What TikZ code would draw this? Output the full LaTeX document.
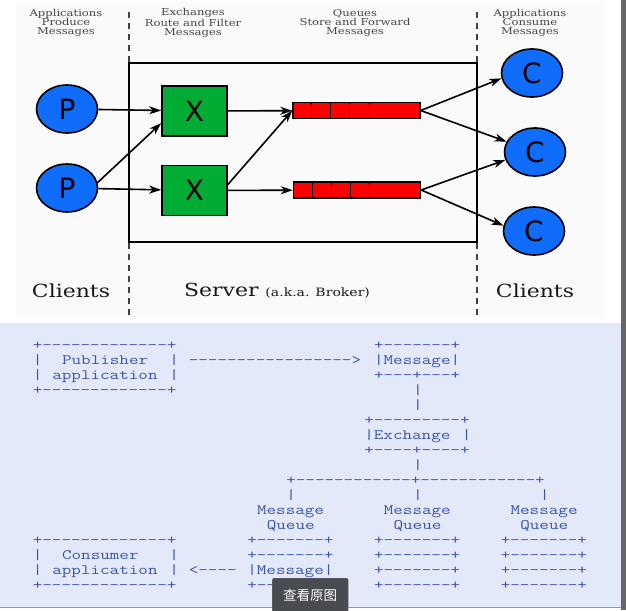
\documentclass[tikz,border=0pt]{standalone}
\usepackage{fontspec}
\setmainfont{DejaVu Serif}
\setsansfont{DejaVu Sans}
\setmonofont{Latin Modern Mono}[FakeStretch=1.3]
\newfontfamily\slabfont{DejaVu Serif}[FakeStretch=1.22]
\newfontfamily\cjk{Noto Sans CJK SC}
\usetikzlibrary{shapes.geometric, arrows.meta}

\definecolor{pblue}{RGB}{16,108,250}
\definecolor{xgreen}{RGB}{0,172,52}
\definecolor{qred}{RGB}{255,0,0}
\definecolor{headgray}{RGB}{70,70,70}
\definecolor{asciiblue}{RGB}{58,84,170}
\definecolor{paneblue}{RGB}{228,233,250}
\definecolor{btngray}{RGB}{72,75,80}

\begin{document}
\begin{tikzpicture}[x=1pt, y=-1pt,
  client/.style={ellipse, draw, line width=1.6pt, fill=pblue, minimum width=61pt, minimum height=48pt, inner sep=0pt, font=\sffamily\fontsize{28}{28}\selectfont},
  exch/.style={rectangle, draw, line width=1.6pt, fill=xgreen, minimum width=65pt, minimum height=50pt, inner sep=0pt, font=\sffamily\fontsize{28}{28}\selectfont},
  queue/.style={rectangle, draw, line width=1.4pt, fill=qred, minimum width=127pt, minimum height=16pt, inner sep=0pt},
  flow/.style={line width=1.6pt, -{Stealth[length=12pt, width=8pt, inset=3.5pt]}},
  head/.style={font=\slabfont\fontsize{9.5}{9.2}\selectfont, text=headgray, align=center},
  side/.style={font=\slabfont\fontsize{18}{18}\selectfont, text=black!90},
  asc/.style={anchor=base west, inner sep=0pt, text=asciiblue, font=\ttfamily\fontsize{14.3}{15}\selectfont}
]
\useasboundingbox (0,0) rectangle (626,610);
% panes of the screenshot
\fill[white] (0,0) rectangle (626,610);
\fill[black!2] (16,2) rectangle (605,318);
\fill[paneblue] (0,323) rectangle (621,607);
\fill[black!60] (621,0) rectangle (626,610);
\draw[black!40, line width=1pt] (0,607.5) -- (621,607.5);

% upper picture
\foreach \x in {129,477} {
 \draw[line width=1.2pt, black!75, dash pattern=on 6pt off 5pt] (\x,12) -- (\x,318);
}
\draw[line width=1.6pt] (129,63) rectangle (477,242);

\node[head] (hprod) at (66,23) {Applications\\Produce\\Messages};
\node[head] (hexch) at (193,23) {Exchanges\\Route and Filter\\Messages};
\node[head] (hque) at (355,23) {Queues\\Store and Forward\\Messages};
\node[head] (hcons) at (530,23) {Applications\\Consume\\Messages};

\node[client] (p1) at (67,109) {P};
\node[client] (p2) at (67,188) {P};
\node[exch] (x1) at (194.5,111) {X};
\node[exch] (x2) at (194.5,190.5) {X};
\node[queue] (q1) at (356.5,110.5) {};
\node[queue] (q2) at (357,190) {};
\node[client] (c1) at (532,73) {C};
\node[client] (c2) at (535,152) {C};
\node[client] (c3) at (534,231) {C};

\foreach \q in {q1,q2} {
 \foreach \d in {19.5,38.5,57.5,77} {
  \draw[line width=1.2pt] ([xshift=\d pt]\q.north west) -- ([xshift=\d pt]\q.south west);
 }
}

\draw[flow] (p1) -- (x1);
\draw[flow] (p2.10) -- (x1.200);
\draw[flow] (p2) -- (x2);
\draw[flow] (x1) -- (q1);
\draw[flow] (x2.10) -- (q1.west);
\draw[flow] (x2) -- (q2);
\draw[flow] (q1.east) -- (c1.190);
\draw[flow] (q1.east) -- (c2.160);
\draw[flow] (q2.east) -- (c2.195);
\draw[flow] (q2.east) -- (c3.170);

\node[side] (cl1) at (71,291) {Clients};
\node[side] (srv) at (277,291) {Server {\fontsize{11.5}{11.5}\selectfont(a.k.a. Broker)}};
\node[side] (cl2) at (535,291) {Clients};

% lower picture, column/row/text
\foreach \c/\r/\t [count=\i] in {
 0/0/{+-------------+}, 35/0/{+-------+},
 0/1/{|}, 3/1/{Publisher}, 14/1/{|}, 16/1/{----------------->}, 35/1/{|Message|},
 0/2/{|}, 2/2/{application}, 14/2/{|}, 35/2/{+---+---+},
 0/3/{+-------------+}, 39/3/{|},
 39/4/{|},
 34/5/{+---------+},
 34/6/{|Exchange}, 44/6/{|},
 34/7/{+----+----+},
 39/8/{|},
 26/9/{+------------+------------+},
 26/10/{|}, 39/10/{|}, 52/10/{|},
 23/11/{Message}, 36/11/{Message}, 49/11/{Message},
 24/12/{Queue}, 37/12/{Queue}, 50/12/{Queue},
 0/13/{+-------------+}, 22/13/{+-------+}, 35/13/{+-------+}, 48/13/{+-------+},
 0/14/{|}, 3/14/{Consumer}, 14/14/{|}, 22/14/{+-------+}, 35/14/{+-------+}, 48/14/{+-------+},
 0/15/{|}, 2/15/{application}, 14/15/{|}, 16/15/{<----}, 22/15/{|Message|}, 35/15/{+-------+}, 48/15/{+-------+},
 0/16/{+-------------+}, 22/16/{+-------+}, 35/16/{+-------+}, 48/16/{+-------+}} {
 \node[asc] (t\i) at ({32.6+\c*9.75},{349+\r*15}) {\t};
}

\node[draw=black!55, fill=btngray, rounded corners=2pt, minimum width=76pt, minimum height=34pt, inner sep=0pt, anchor=north west, text=white, font=\cjk\fontsize{13.5}{14}\selectfont] (btn) at (272,578) {查看原图};

\end{tikzpicture}
\end{document}
